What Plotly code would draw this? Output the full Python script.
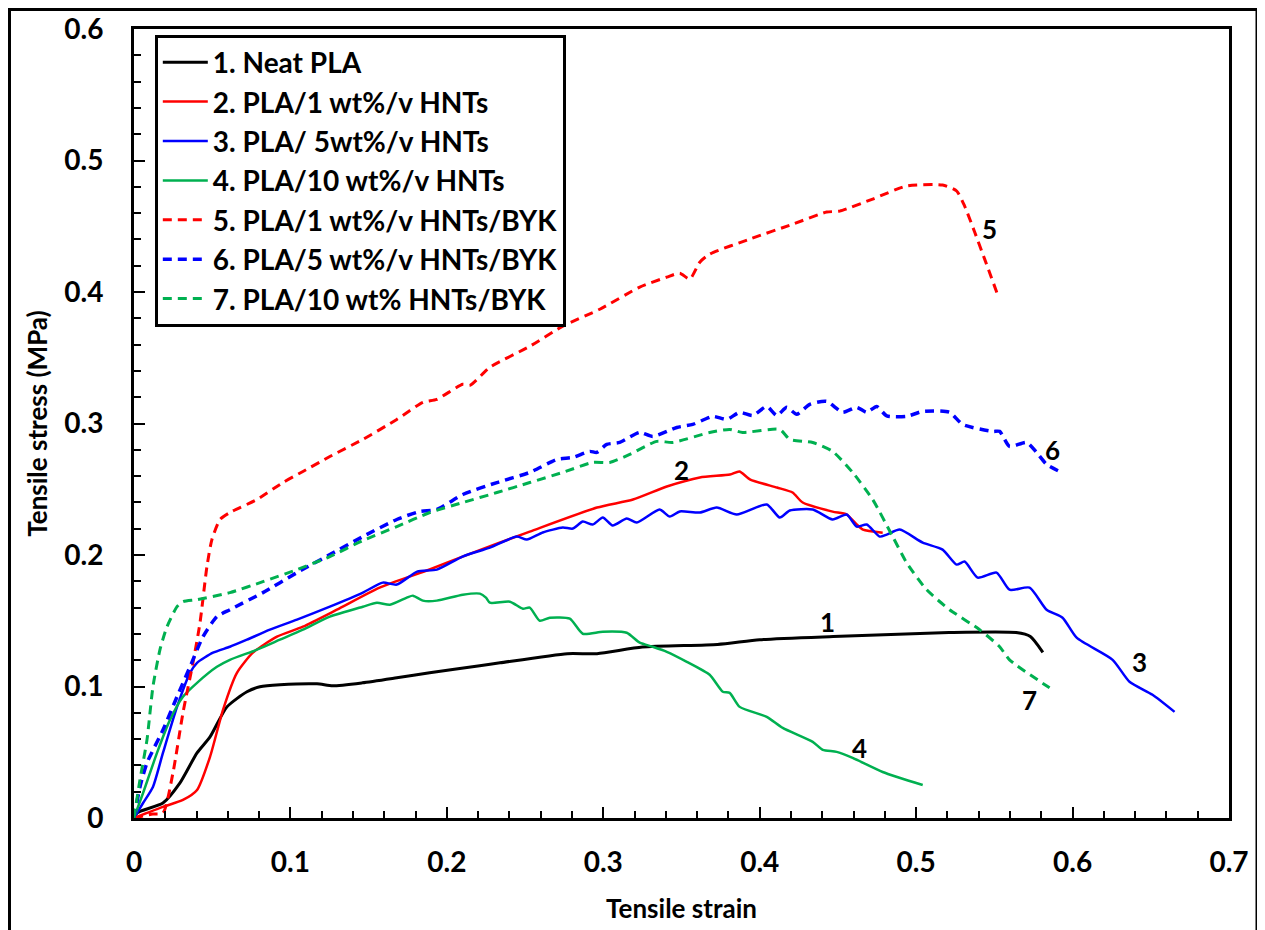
import plotly.graph_objects as go

# ---- Data ----
names = [
    "1. Neat PLA",
    "2. PLA/1 wt%/v HNTs",
    "3. PLA/ 5wt%/v HNTs",
    "4. PLA/10 wt%/v HNTs",
    "5. PLA/1 wt%/v HNTs/BYK",
    "6. PLA/5 wt%/v HNTs/BYK",
    "7. PLA/10 wt% HNTs/BYK",
]

s1_x = [0, 0.002, 0.0185, 0.0294, 0.0403, 0.0486, 0.0594, 0.0722, 0.0805, 0.0933, 0.117, 0.127, 0.146, 0.168,
        0.189, 0.221, 0.234, 0.277, 0.296, 0.325, 0.373, 0.400, 0.447, 0.521, 0.564, 0.573, 0.581]
s1_y = [0, 0.004, 0.0114, 0.0267, 0.0495, 0.0617, 0.0845, 0.096, 0.0998, 0.1013, 0.102, 0.1005, 0.1028, 0.1066,
        0.1104, 0.1158, 0.118, 0.125, 0.125, 0.130, 0.132, 0.1356, 0.138, 0.141, 0.141, 0.138, 0.126]

s2_x = [0, 0.0185, 0.0313, 0.0403, 0.0486, 0.0569, 0.0658, 0.076, 0.0914, 0.108, 0.1297, 0.157, 0.189, 0.210,
        0.253, 0.296, 0.319, 0.3406, 0.3617, 0.381, 0.387, 0.394, 0.411, 0.421, 0.4275, 0.4466, 0.4556, 0.462,
        0.466, 0.4786]
s2_y = [0, 0.0084, 0.0137, 0.0213, 0.0465, 0.0823, 0.1104, 0.1257, 0.1379, 0.1455, 0.1584, 0.1752, 0.189, 0.1988,
        0.2178, 0.2361, 0.2422, 0.2521, 0.259, 0.2612, 0.2635, 0.2574, 0.2513, 0.2475, 0.2399, 0.233, 0.2308, 0.2232,
        0.2193, 0.217]

s3_x = [0, 0.0058, 0.0121, 0.0185, 0.0275, 0.0358, 0.0403, 0.0505, 0.0613, 0.0722, 0.0869, 0.1042, 0.1252, 0.1463,
        0.159, 0.168, 0.181, 0.1936, 0.210, 0.2275, 0.2447, 0.2511, 0.2613, 0.2741, 0.2805, 0.2869, 0.2933, 0.2997,
        0.306, 0.315, 0.3214, 0.336, 0.3425, 0.3489, 0.3617, 0.3725, 0.3853, 0.4045, 0.4128, 0.4192, 0.4339, 0.4466,
        0.4556, 0.462, 0.4684, 0.4767, 0.4812, 0.4895, 0.5042, 0.5169, 0.5259, 0.531, 0.5393, 0.5514, 0.5597, 0.5725,
        0.5834, 0.5936, 0.6026, 0.6256, 0.6364, 0.6511, 0.6652]
s3_y = [0, 0.0114, 0.0236, 0.0495, 0.0845, 0.1104, 0.118, 0.1257, 0.1302, 0.1356, 0.1432, 0.1508, 0.1607, 0.1714,
        0.179, 0.1775, 0.1874, 0.1889, 0.1988, 0.2056, 0.214, 0.2117, 0.2171, 0.2209, 0.2201, 0.2254, 0.2232, 0.2285,
        0.2224, 0.2277, 0.2247, 0.2346, 0.2292, 0.2331, 0.2323, 0.2361, 0.2308, 0.2384, 0.2285, 0.2338, 0.2346, 0.227,
        0.2308, 0.2216, 0.2232, 0.214, 0.2155, 0.2193, 0.2094, 0.2041, 0.1927, 0.195, 0.1828, 0.1866, 0.1736, 0.1752,
        0.1584, 0.1523, 0.1371, 0.1203, 0.1036, 0.0937, 0.0807]

s4_x = [0, 0.0058, 0.0147, 0.023, 0.0313, 0.0403, 0.053, 0.0613, 0.0786, 0.0933, 0.108, 0.1252, 0.1463, 0.1553,
        0.1636, 0.1744, 0.1783, 0.1847, 0.1936, 0.2102, 0.2211, 0.225, 0.2275, 0.2403, 0.2486, 0.253, 0.2594, 0.2658,
        0.2786, 0.2869, 0.2997, 0.315, 0.3233, 0.3316, 0.3406, 0.3534, 0.368, 0.3764, 0.3808, 0.3872, 0.4045, 0.4147,
        0.4339, 0.4403, 0.4492, 0.4594, 0.4786, 0.5042]
s4_y = [0, 0.019, 0.0495, 0.0746, 0.0922, 0.1028, 0.115, 0.1203, 0.128, 0.1356, 0.1432, 0.1531, 0.1607, 0.1637,
        0.1622, 0.1676, 0.1691, 0.1653, 0.1653, 0.1698, 0.1706, 0.1676, 0.1637, 0.1645, 0.1592, 0.16, 0.150, 0.1523,
        0.1516, 0.1401, 0.1417, 0.1409, 0.1333, 0.1302, 0.1264, 0.1188, 0.1089, 0.096, 0.0952, 0.0845, 0.0769, 0.0685,
        0.0579, 0.0518, 0.0503, 0.0457, 0.035, 0.0251]

s5_x = [0, 0.012, 0.0185, 0.0249, 0.0313, 0.0377, 0.0422, 0.0466, 0.0498, 0.055, 0.0613, 0.0786, 0.0952, 0.108,
        0.1252, 0.1463, 0.168, 0.1847, 0.1936, 0.2102, 0.2147, 0.2275, 0.253, 0.2741, 0.2978, 0.3233, 0.3406, 0.3489,
        0.3553, 0.3617, 0.368, 0.3936, 0.4211, 0.4428, 0.4511, 0.4722, 0.4939, 0.5169, 0.5259, 0.531, 0.5374, 0.5438,
        0.552]
s5_y = [0, 0.003, 0.0038, 0.0343, 0.080, 0.118, 0.1485, 0.191, 0.2117, 0.227, 0.2323, 0.2422, 0.2551, 0.2635,
        0.2749, 0.2879, 0.3031, 0.3161, 0.3184, 0.3298, 0.329, 0.3427, 0.3587, 0.374, 0.3869, 0.4037, 0.4113, 0.4143,
        0.4098, 0.4227, 0.4288, 0.4402, 0.4516, 0.4608, 0.4615, 0.4707, 0.4806, 0.4813, 0.4768, 0.4653, 0.4456, 0.425,
        0.3983]

s6_x = [0, 0.0038, 0.0083, 0.0185, 0.0275, 0.0358, 0.0441, 0.053, 0.0613, 0.0824, 0.1042, 0.1252, 0.1463, 0.168,
        0.1827, 0.1936, 0.2102, 0.232, 0.253, 0.2703, 0.2805, 0.2914, 0.2958, 0.3022, 0.3105, 0.3233, 0.3316, 0.347,
        0.3572, 0.37, 0.3789, 0.3872, 0.3955, 0.4045, 0.4109, 0.4173, 0.4236, 0.432, 0.4428, 0.453, 0.462, 0.4684,
        0.4748, 0.4812, 0.4939, 0.5042, 0.5214, 0.5297, 0.5489, 0.5534, 0.5597, 0.5706, 0.577, 0.5834, 0.5917]
s6_y = [0, 0.0236, 0.0419, 0.067, 0.0922, 0.115, 0.1379, 0.1531, 0.1584, 0.1714, 0.1866, 0.2003, 0.214, 0.227,
        0.2331, 0.2346, 0.246, 0.2551, 0.2628, 0.2727, 0.2742, 0.2788, 0.278, 0.2841, 0.2856, 0.2932, 0.2902, 0.297,
        0.2993, 0.3054, 0.3031, 0.3085, 0.3061, 0.313, 0.3061, 0.3123, 0.307, 0.3146, 0.3168, 0.3085, 0.3123, 0.3085,
        0.313, 0.3058, 0.3054, 0.3092, 0.3085, 0.2993, 0.294, 0.294, 0.2826, 0.2856, 0.278, 0.2689, 0.2635]

s7_x = [0, 0.0038, 0.0083, 0.0121, 0.0166, 0.0211, 0.0275, 0.0313, 0.0403, 0.0613, 0.0824, 0.1042, 0.1252, 0.1463,
        0.168, 0.1891, 0.2102, 0.232, 0.253, 0.2741, 0.2933, 0.3042, 0.3169, 0.3342, 0.3444, 0.368, 0.3808, 0.3891,
        0.4128, 0.4192, 0.4339, 0.4466, 0.4594, 0.4722, 0.485, 0.4939, 0.5067, 0.5214, 0.5406, 0.5534, 0.5597, 0.5853]
s7_y = [0, 0.029, 0.0594, 0.0998, 0.128, 0.1455, 0.1607, 0.1645, 0.166, 0.1714, 0.1797, 0.1889, 0.1988, 0.211,
        0.2216, 0.2323, 0.2399, 0.2475, 0.2551, 0.2628, 0.2704, 0.2704, 0.2765, 0.2864, 0.2856, 0.2932, 0.2955, 0.2932,
        0.2955, 0.2879, 0.2856, 0.2788, 0.2628, 0.2422, 0.214, 0.1942, 0.1736, 0.1584, 0.1432, 0.1302, 0.1203, 0.099]

label_text = ["1", "2", "3", "4", "5", "6", "7"]
label_x = [0.4435, 0.350, 0.643, 0.464, 0.547, 0.587, 0.5725]
label_y = [0.149, 0.265, 0.119, 0.053, 0.448, 0.280, 0.090]

x_ticks = [0, 0.1, 0.2, 0.3, 0.4, 0.5, 0.6, 0.7]
y_ticks = [0, 0.1, 0.2, 0.3, 0.4, 0.5, 0.6]

# ---- Styling ----
FONT = "Lato"
colors = ["#000000", "#FF0000", "#0000FF", "#00B050", "#FF0000", "#0000FF", "#00B050"]
dashes = ["solid", "solid", "solid", "solid", "9px,6px", "9px,6px", "9px,6px"]
widths = [3, 2.5, 2.5, 2.5, 3, 3.5, 3]

series = [(s1_x, s1_y), (s2_x, s2_y), (s3_x, s3_y), (s4_x, s4_y), (s5_x, s5_y), (s6_x, s6_y), (s7_x, s7_y)]

W, H = 1257, 922
L, R, T, B = 126, 36, 21, 112
PW, PH = W - L - R, H - T - B

fig = go.Figure()
for i, ((xs, ys), nm) in enumerate(zip(series, names)):
    fig.add_trace(go.Scatter(
        x=xs, y=ys, mode="lines", name=nm,
        line=dict(color=colors[i], width=widths[i], dash=dashes[i], shape="spline", smoothing=0.6),
    ))

for t, x, y in zip(label_text, label_x, label_y):
    fig.add_annotation(x=x, y=y, text="<b>%s</b>" % t, showarrow=False,
                       font=dict(family=FONT, size=26, color="black"))

axis_common = dict(
    showline=True, linecolor="black", linewidth=3, mirror=True,
    ticks="inside", ticklen=11, tickwidth=2, tickcolor="black",
    showgrid=False, zeroline=False,
    tickfont=dict(family=FONT, size=28, color="black", weight="bold"),
    automargin=False,
)

fig.update_xaxes(
    range=[0, 0.7], tickvals=x_ticks, ticktext=[("%g" % v) for v in x_ticks],
    minor=dict(dtick=0.02, tick0=0, ticks="inside", ticklen=7, tickwidth=2, tickcolor="black", showgrid=False),
    title=dict(text="<b>Tensile strain</b>", font=dict(family=FONT, size=26, color="black"), standoff=24),
    ticklabelstandoff=17,
    **axis_common,
)
fig.update_yaxes(
    range=[0, 0.6], tickvals=y_ticks, ticktext=[("%g" % v) for v in y_ticks],
    minor=dict(dtick=0.02, tick0=0, ticks="inside", ticklen=7, tickwidth=2, tickcolor="black", showgrid=False),
    title=dict(text="<b>Tensile stress (MPa)</b>", font=dict(family=FONT, size=26, color="black"), standoff=10),
    ticklabelstandoff=22,
    **axis_common,
)

fig.update_layout(
    width=W, height=H,
    margin=dict(l=L, r=R, t=T, b=B),
    paper_bgcolor="white", plot_bgcolor="white",
    showlegend=True,
    legend=dict(
        x=0.019, y=0.993, xanchor="left", yanchor="top",
        bgcolor="white", bordercolor="black", borderwidth=3,
        font=dict(family=FONT, size=28, color="black", weight="bold"),
        itemwidth=45,
    ),
    shapes=[dict(type="rect", xref="paper", yref="paper",
                 x0=(1.5 - L) / PW, x1=(W - 8 - L) / PW,
                 y0=-0.3, y1=(PH + T - 1.5) / PH,
                 line=dict(color="black", width=3), fillcolor="rgba(0,0,0,0)", layer="below")],
)

fig.write_html("out.html")
